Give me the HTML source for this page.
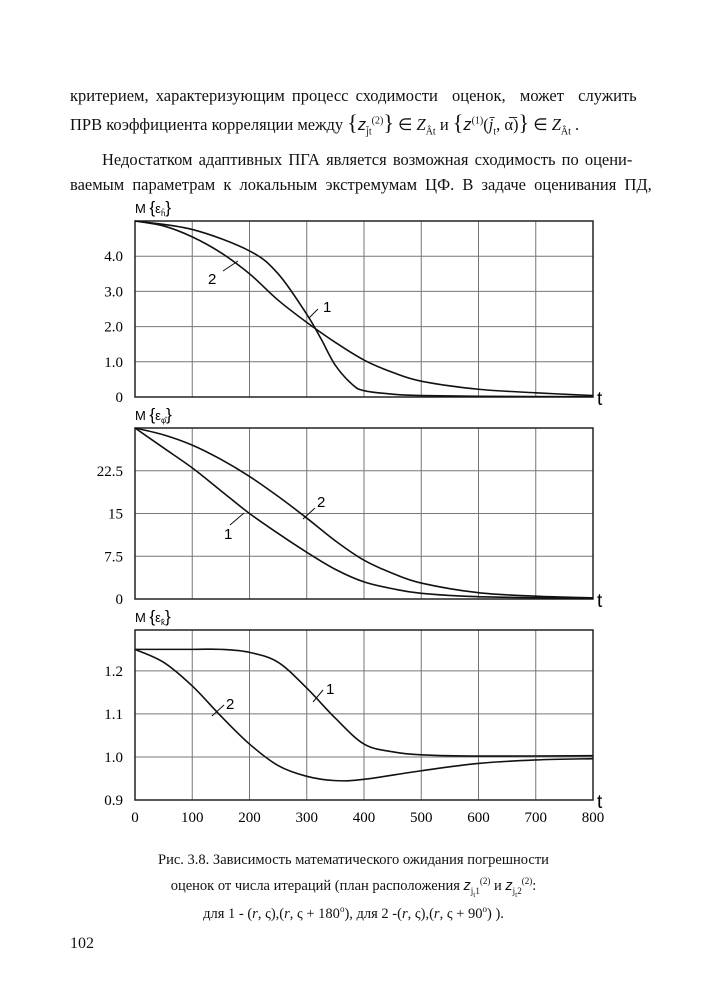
<!DOCTYPE html>
<html><head><meta charset="utf-8"><style>
html,body{margin:0;padding:0;background:#fff;}
body{width:707px;height:1000px;position:relative;overflow:hidden;font-family:"Liberation Serif",serif;color:#111;}
.t{position:absolute;font-size:16.5px;white-space:nowrap;}
</style></head><body>
<div class="t" style="left:70px;top:86px;word-spacing:3px">критерием, характеризующим процесс сходимости&nbsp; оценок,&nbsp; может&nbsp; служить</div>
<div class="t" style="left:70px;top:110px">ПРВ коэффициента корреляции между <span style="font-size:22px">{</span><i style="font-family:'Liberation Sans'">z</i><sub style="font-size:10px">j̄t</sub><sup style="font-size:10px">(2)</sup><span style="font-size:22px">}</span> ∈ <i>Z</i><sub style="font-size:10px">Ât</sub> и <span style="font-size:22px">{</span><i style="font-family:'Liberation Sans'">z</i><sup style="font-size:10px">(1)</sup>(<i>j̄</i><sub style="font-size:10px">t</sub>, α̅)<span style="font-size:22px">}</span> ∈ <i>Z</i><sub style="font-size:10px">Ât</sub> .</div>
<div class="t" style="left:102px;top:150px;word-spacing:2px">Недостатком адаптивных ПГА является возможная сходимость по оцени-</div>
<div class="t" style="left:70px;top:175px;word-spacing:4px">ваемым параметрам к локальным экстремумам ЦФ. В задаче оценивания ПД,</div>

<svg id="s" width="707" height="1000" style="position:absolute;left:0;top:0" xmlns="http://www.w3.org/2000/svg"></svg>

<div class="t" style="left:0;width:707px;text-align:center;top:852px;font-size:14.5px">Рис. 3.8. Зависимость математического ожидания погрешности</div>
<div class="t" style="left:0;width:707px;text-align:center;top:876px;font-size:14.5px">оценок от числа итераций (план расположения <i style="font-family:'Liberation Sans'">z</i><sub style="font-size:9px">j<sub>t</sub>1</sub><sup style="font-size:9px">(2)</sup> и <i style="font-family:'Liberation Sans'">z</i><sub style="font-size:9px">j<sub>t</sub>2</sub><sup style="font-size:9px">(2)</sup>:</div>
<div class="t" style="left:0;width:707px;text-align:center;top:904px;font-size:14.5px">для 1 - (<i>r</i>, ς),(<i>r</i>, ς + 180<sup style="font-size:9px">o</sup>), для 2 -(<i>r</i>, ς),(<i>r</i>, ς + 90<sup style="font-size:9px">o</sup>) ).</div>
<div class="t" style="left:70px;top:935px;font-size:16px">102</div>

<script>
var s=document.getElementById('s'),NS='http://www.w3.org/2000/svg';
function el(n,a,txt){var e=document.createElementNS(NS,n);for(var k in a)e.setAttribute(k,a[k]);if(txt!=null)e.textContent=txt;s.appendChild(e);return e;}
var X0=135,X1=593;function X(t){return X0+(X1-X0)*t/800;}
function path(pts){var p=pts.map(function(q){return[X(q[0]),q[1]]});var d='M'+p[0][0]+','+p[0][1];
for(var i=0;i<p.length-1;i++){var a=p[i-1]||p[i],b=p[i],c=p[i+1],e=p[i+2]||c;
d+=' C'+(b[0]+(c[0]-a[0])/6)+','+(b[1]+(c[1]-a[1])/6)+' '+(c[0]-(e[0]-b[0])/6)+','+(c[1]-(e[1]-b[1])/6)+' '+c[0]+','+c[1];}
el('path',{d:d,fill:'none',stroke:'#111','stroke-width':1.6});}
function chart(top,bot,vmin,vmax,ticks,labels,title,c1,c2){
 function Y(v){return bot-(bot-top)*(v-vmin)/(vmax-vmin);}
 for(var i=1;i<8;i++)el('line',{x1:X(i*100),x2:X(i*100),y1:top,y2:bot,stroke:'#777','stroke-width':1});
 ticks.forEach(function(v,i){el('line',{x1:X0,x2:X1,y1:Y(v),y2:Y(v),stroke:'#777','stroke-width':1});
  el('text',{x:123,y:Y(v)+5,'text-anchor':'end','font-size':15,'font-family':'Liberation Serif'},labels[i]);});
 el('rect',{x:X0,y:top,width:X1-X0,height:bot-top,fill:'none',stroke:'#222','stroke-width':1.5});
 el('text',{x:597,y:bot+8,'font-size':19,'font-family':'Liberation Sans'},'t');
 var g=el('text',{x:135,y:top-8,'font-size':13,'font-family':'Liberation Sans'});
 g.innerHTML='M <tspan font-size="17">{</tspan>ε<tspan font-size="8" dy="3">'+title+'</tspan><tspan font-size="17" dy="-3">}</tspan>';
 path(c1.map(function(q){return[q[0],Y(q[1])]}));path(c2.map(function(q){return[q[0],Y(q[1])]}));
}
chart(221,397,0,5,[4,3,2,1,0],['4.0','3.0','2.0','1.0','0'],'ĥ',
 [[0,5],[100,4.76],[200,4.15],[250,3.5],[300,2.35],[325,1.65],[350,0.9],[380,0.35],[400,0.18],[450,0.08],[500,0.04],[600,0.02],[800,0.01]],
 [[0,5],[50,4.86],[100,4.55],[150,4.1],[200,3.5],[250,2.75],[300,2.12],[350,1.55],[400,1.05],[450,0.7],[500,0.45],[600,0.22],[700,0.12],[800,0.04]]);
chart(428,599,0,30,[22.5,15,7.5,0],['22.5','15','7.5','0'],'φ̂',
 [[0,30],[50,26.5],[100,23],[150,19],[200,15],[250,11.5],[300,8.2],[350,5.2],[400,3],[450,1.8],[500,1],[600,0.4],[800,0.1]],
 [[0,30],[50,28.8],[100,27],[150,24.5],[200,21.5],[250,18],[300,14.2],[350,10.2],[400,6.8],[450,4.5],[500,2.8],[600,1.1],[700,0.5],[800,0.2]]);
chart(630,800,0.9,1.295,[1.2,1.1,1.0,0.9],['1.2','1.1','1.0','0.9'],'k̂',
 [[0,1.25],[100,1.25],[150,1.25],[200,1.243],[250,1.22],[300,1.16],[350,1.09],[400,1.03],[450,1.012],[500,1.005],[600,1.002],[800,1.003]],
 [[0,1.25],[50,1.22],[100,1.165],[150,1.095],[200,1.03],[250,0.98],[300,0.955],[350,0.945],[400,0.948],[500,0.968],[600,0.985],[700,0.993],[800,0.996]]);
['0','100','200','300','400','500','600','700','800'].forEach(function(l,i){el('text',{x:X(i*100)+(i==0?0:0),y:822,'text-anchor':'middle','font-size':15,'font-family':'Liberation Serif'},l);});
function lab(x,y,t,x1,y1,x2,y2){el('line',{x1:x1,y1:y1,x2:x2,y2:y2,stroke:'#111','stroke-width':1});el('text',{x:x,y:y,'font-size':15,'font-family':'Liberation Sans'},t);}
lab(208,284,'2',223,271,238,261);lab(323,312,'1',318,309,309,318);
lab(224,539,'1',230,525,244,513);lab(317,507,'2',315,508,303,519);
lab(326,694,'1',323,690,313,702);lab(226,709,'2',224,705,212,716);
</script>
</body></html>
